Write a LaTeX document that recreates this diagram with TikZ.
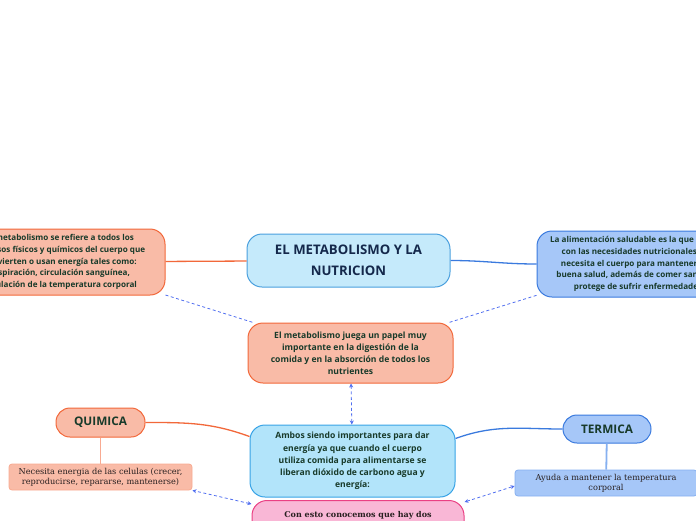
\documentclass[tikz,border=0pt]{standalone}
\usepackage{fontspec}
\setmainfont{Open Sans}
\newfontfamily\slabfont{DejaVu Serif}
\usetikzlibrary{positioning, arrows.meta}
\definecolor{salmonfill}{RGB}{249,187,167}
\definecolor{salmonline}{RGB}{242,104,58}
\definecolor{titlefill}{RGB}{197,234,251}
\definecolor{titleline}{RGB}{74,160,222}
\definecolor{bluefill}{RGB}{166,199,248}
\definecolor{blueline}{RGB}{58,122,222}
\definecolor{cyanfill}{RGB}{178,228,250}
\definecolor{cyanline}{RGB}{56,163,230}
\definecolor{pinkfill}{RGB}{249,183,214}
\definecolor{pinkline}{RGB}{234,64,132}
\definecolor{textgreen}{RGB}{24,58,42}
\definecolor{textnavy}{RGB}{20,40,75}
\definecolor{dashblue}{RGB}{80,110,240}
\definecolor{slabtext}{RGB}{40,32,32}

\begin{document}
\begin{tikzpicture}[
        x=1pt, y=-1pt,
        bigbox/.style={draw, rounded corners=15pt, line width=1pt, inner sep=0pt,
                       align=center, text=textgreen, font=\bfseries\fontsize{8.1}{11.6}\selectfont},
        pill/.style={draw, rounded corners=14pt, line width=1pt, inner sep=0pt,
                     text=textgreen, font=\bfseries\fontsize{11.8}{13}\selectfont},
        smallbox/.style={draw, rounded corners=3pt, line width=0.8pt, inner sep=0pt,
                         align=center, text=slabtext, font=\slabfont\fontsize{8.2}{10.5}\selectfont},
        link/.style={line width=1.3pt},
        dashlink/.style={dashblue, line width=0.8pt, dash pattern=on 3pt off 2.5pt},
        both/.style={dashlink, {Stealth[length=4pt,width=4pt]}-{Stealth[length=4pt,width=4pt]}},
    ]
        \useasboundingbox (0,0) rectangle (696,520);
        \clip (0,0) rectangle (696,520);

        \node[bigbox, fill=titlefill, draw=titleline, text=textnavy,
              minimum width=203, minimum height=53,
              font=\bfseries\fontsize{13.2}{21}\selectfont] (title) at (348.5,260.5)
            {EL METABOLISMO Y LA\\NUTRICION};

        \node[bigbox, fill=salmonfill, draw=salmonline,
              minimum width=210, minimum height=66] (metab) at (60,262)
            {El metabolismo se refiere a todos los\\
             procesos físicos y químicos del cuerpo que\\
             convierten o usan energía tales como:\\
             respiración, circulación sanguínea,\\
             regulación de la temperatura corporal};

        \node[bigbox, fill=bluefill, draw=blueline,
              minimum width=202, minimum height=66] (alim) at (638,264)
            {La alimentación saludable es la que cumple\\
             con las necesidades nutricionales que\\
             necesita el cuerpo para mantener una\\
             buena salud, además de comer sano nos\\
             protege de sufrir enfermedades};

        \node[bigbox, fill=salmonfill, draw=salmonline,
              minimum width=205, minimum height=60,
              font=\bfseries\fontsize{8.6}{12}\selectfont] (papel) at (350.5,353)
            {El metabolismo juega un papel muy\\
             importante en la digestión de la\\
             comida y en la absorción de todos los\\
             nutrientes};

        \node[bigbox, fill=cyanfill, draw=cyanline,
              minimum width=205, minimum height=72,
              font=\bfseries\fontsize{8.6}{12.2}\selectfont] (ambos) at (352.5,461)
            {Ambos siendo importantes para dar\\
             energía ya que cuando el cuerpo\\
             utiliza comida para alimentarse se\\
             liberan dióxido de carbono agua y\\
             energía:};

        \node[pill, fill=salmonfill, draw=salmonline,
              minimum width=89, minimum height=29] (quimica) at (100.5,422.5) {QUIMICA};

        \node[smallbox, fill=salmonfill, draw=salmonfill!80!salmonline,
              minimum width=183, minimum height=26] (celulas) at (100.5,477)
            {Necesita energia de las celulas (crecer,\\
             reproducirse, repararse, mantenerse)};

        \node[pill, fill=bluefill, draw=blueline,
              minimum width=88, minimum height=28] (termica) at (607,429) {TERMICA};

        \node[smallbox, fill=bluefill, draw=bluefill!70!blueline,
              minimum width=182, minimum height=26] (temp) at (606,483)
            {Ayuda a mantener la temperatura\\corporal};

        \node[bigbox, fill=pinkfill, draw=pinkline, anchor=north,
              minimum width=212, minimum height=40, text=slabtext,
              font=\slabfont\bfseries\fontsize{8}{11}\selectfont] (procesos) at (358,500)
            {Con esto conocemos que hay dos\\procesos};

        \draw[link, salmonline] (title) -- (metab);
        \draw[link, blueline] (title) to[out=0, in=180] (alim);
        \draw[link, salmonline] (quimica) to[out=0, in=160] ([yshift=-12pt]ambos.north west);
        \draw[link, blueline] (termica) to[out=180, in=20] ([yshift=-14pt]ambos.north east);

        \draw[salmonfill!80!salmonline, line width=1.8pt] (quimica) -- (celulas);
        \draw[bluefill!70!blueline, line width=1.8pt] (termica) -- (temp);

        \draw[dashlink] (metab) -- (papel);
        \draw[dashlink] (alim) -- (papel);
        \draw[both] (papel) -- (ambos);
        \draw[both] ([yshift=-4pt]procesos.north west) -- (celulas.south east);
        \draw[both] ([yshift=-2pt]procesos.north east) -- ([yshift=-3pt]temp.west);
    \end{tikzpicture}
\end{document}
